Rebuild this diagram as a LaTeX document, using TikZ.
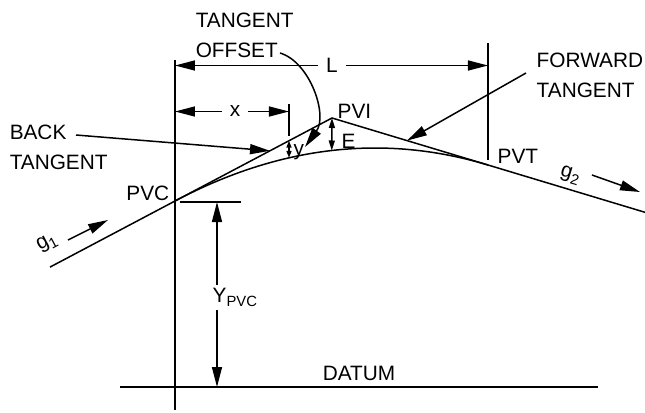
\documentclass[tikz,border=0pt]{standalone}
\usepackage{fontspec}
\setmainfont{Liberation Sans}
\usetikzlibrary{calc,arrows.meta}

\tikzset{
  lbl/.style={inner sep=0pt,font=\fontsize{10.4}{15}\selectfont},
  dimlabel/.style={lbl,inner sep=3.5pt},
  tip/.style={-{Triangle[length=10pt,width=5pt]}},
  bothtips/.style={{Triangle[length=10pt,width=5pt]}-{Triangle[length=10pt,width=5pt]}},
  smalltip/.style={{Triangle[length=5pt,width=3pt]}-{Triangle[length=5pt,width=3pt]}},
  tinytip/.style={{Triangle[length=3.5pt,width=2.5pt]}-{Triangle[length=3.5pt,width=2.5pt]}},
}
\newcommand{\sub}[1]{\raisebox{-2.3pt}{\fontsize{7.4}{8}\selectfont #1}}

\begin{document}
\begin{tikzpicture}[x=0.5pt,y=-0.5pt,line width=0.75pt]
  \useasboundingbox (0,0) rectangle (645,413);
  %
  % Points of the vertical curve
  \coordinate (PVC) at (175,201);
  \coordinate (PVI) at (332,118);
  \coordinate (PVT) at (488,165);
  \coordinate (g1start) at (50,267.1);
  \coordinate (g2end) at (645,212.3);
  %
  % Tangents and curve
  \draw (g1start) -- (PVI) -- (g2end);
  \draw (PVC) .. controls ($(PVC)!2/3!(PVI)$) and ($(PVT)!2/3!(PVI)$) .. (PVT);
  %
  % Extension lines
  \draw (175,60) -- (175,410);
  \draw (488,43) -- (488,160);
  \draw (289,104) -- (289,136);
  \draw (180,202) -- (241,202);
  %
  % Datum
  \draw (120,387) -- (598,387);
  \node[lbl,anchor=base] (datum) at (359,380) {DATUM};
  %
  % Length L
  \coordinate (Lleft) at (175,65.5);
  \coordinate (Lright) at (488,65.5);
  \node[dimlabel] (L) at (332,65.5) {L};
  \draw[tip] (L) -- (Lleft);
  \draw[tip] (L) -- (Lright);
  %
  % Distance x
  \coordinate (xleft) at (175,111.5);
  \coordinate (xright) at (289,111.5);
  \node[dimlabel] (x) at (235,111.5) {x};
  \draw[tip] (x) -- (xleft);
  \draw[tip] (x) -- (xright);
  %
  % Offsets y and E
  \coordinate (ytop) at (289,140.7);
  \coordinate (ybot) at (289,157.8);
  \draw[tinytip] (ytop) -- (ybot);
  \node[lbl,anchor=base west] (y) at (293,155) {y};
  \coordinate (Emid) at ($(PVI)!0.5!($(PVC)!0.5!(PVT)$)$);
  \draw[smalltip] (PVI) -- (Emid);
  \node[lbl,anchor=west] (E) at (341,141) {E};
  %
  % Elevation of PVC
  \coordinate (Ytop) at (217,202);
  \coordinate (Ybot) at (217,387);
  \draw[bothtips] (Ytop) -- (Ybot);
  \node[lbl,fill=white,inner sep=1.5pt,anchor=base west] (Ypvc) at (209,302) {Y\sub{PVC}};
  %
  % Point labels
  \node[lbl,anchor=east] (pvc) at (170,193) {PVC};
  \node[lbl,anchor=west] (pvi) at (337,111) {PVI};
  \node[lbl,anchor=west] (pvt) at (497,156) {PVT};
  %
  % Grades
  \node[lbl,rotate=28] (g1) at (47,243) {g\sub{1}};
  \node[lbl,rotate=-17] (g2) at (570,175) {g\sub{2}};
  \coordinate (g1from) at (68,240);
  \coordinate (g1to) at (108,220);
  \coordinate (g2from) at (592,175);
  \coordinate (g2to) at (640,192);
  \draw[tip] (g1from) -- (g1to);
  \draw[tip] (g2from) -- (g2to);
  %
  % Callouts
  \node[lbl,align=left,anchor=west] (back) at (9,147.5) {BACK\\TANGENT};
  \node[lbl,align=left,anchor=west] (fwd) at (536,75.5) {FORWARD\\TANGENT};
  \node[lbl,align=left,anchor=west] (offset) at (195,35) {TANGENT\\OFFSET};
  \coordinate (backfrom) at (76,135);
  \coordinate (backto) at (270,150.8);
  \coordinate (fwdfrom) at (526,73);
  \coordinate (fwdto) at (407,140.6);
  \coordinate (offsetfrom) at (280,53);
  \coordinate (offsetto) at (305,147);
  \draw[tip] (backfrom) -- (backto);
  \draw[tip] (fwdfrom) -- (fwdto);
  \draw[tip] (offsetfrom) .. controls (310,62) and (328,115) .. (offsetto);
  %
\end{tikzpicture}
\end{document}
